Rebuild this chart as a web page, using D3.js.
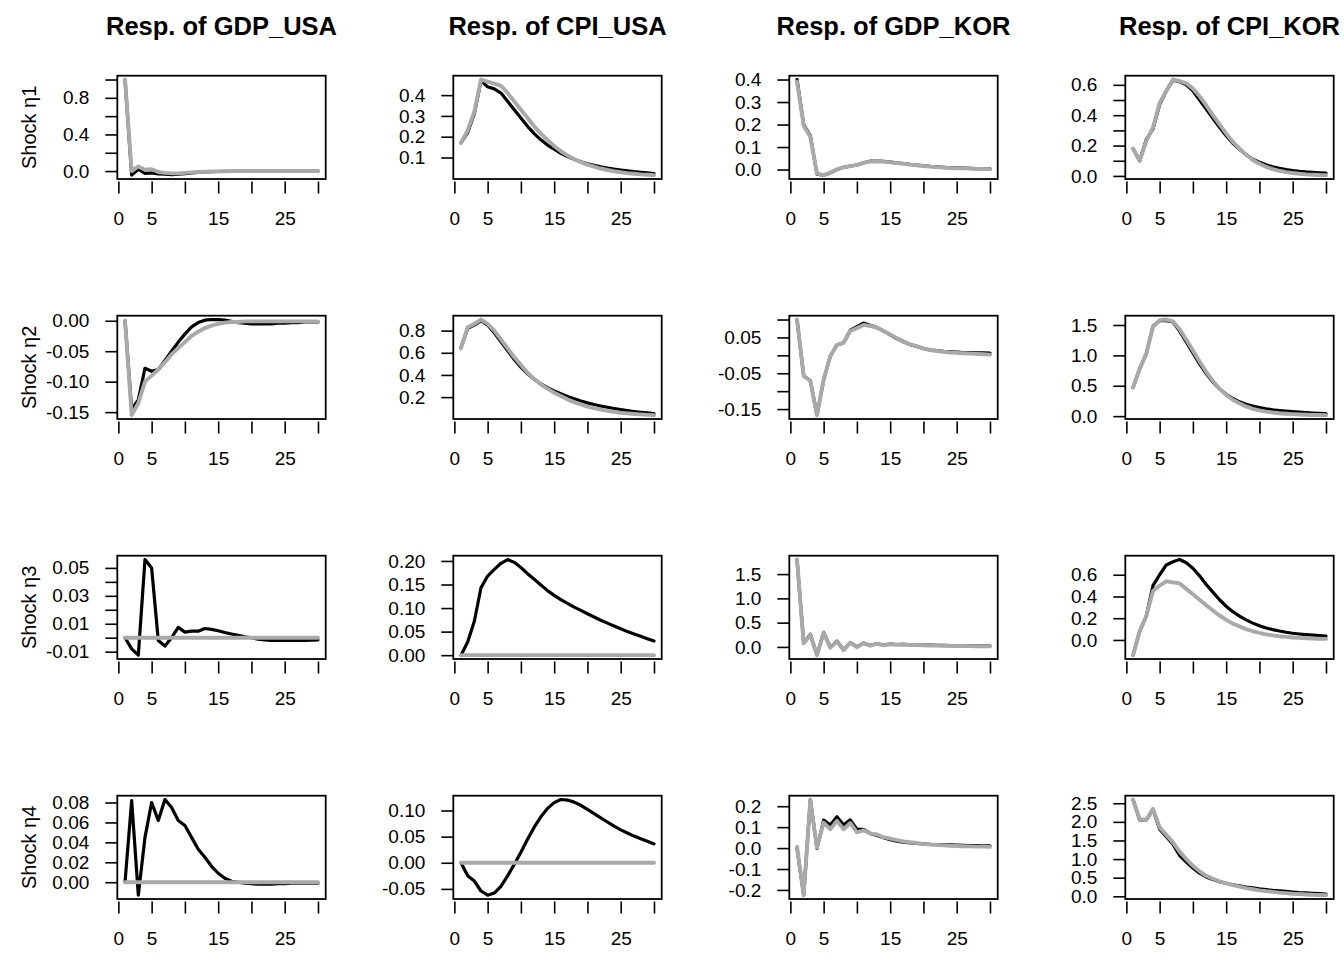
<!DOCTYPE html>
<html>
<head>
<meta charset="utf-8">
<script src="https://cdn.jsdelivr.net/npm/d3@7"></script>
<style>
  html, body { margin: 0; padding: 0; background: #fff; }
  svg { display: block; font-family: "Liberation Sans", Arial, Helvetica, sans-serif; }
</style>
</head>
<body>
<svg id="chart" width="1344" height="960"></svg>
<script>
// ---------------- data ----------------
const periods = [1,2,3,4,5,6,7,8,9,10,11,12,13,14,15,16,17,18,19,20,21,22,23,24,25,26,27,28,29,30];
const variables = ["GDP_USA", "CPI_USA", "GDP_KOR", "CPI_KOR"];
const shocks = ["η1", "η2", "η3", "η4"];
const xTicks = [0, 5, 10, 15, 20, 25, 30];
const xTickLabels = ["0", "5", "", "15", "", "25", ""];

// Shock η1
const black_GDP_USA_1 = [1.0,-0.045,0.02,-0.025,-0.02,-0.03,-0.035,-0.04,-0.035,-0.028,-0.02,-0.014,-0.01,-0.007,-0.005,-0.003,-0.002,-0.001,0,0,0,0,0,0,0,0,0,0,0,0];
const gray_GDP_USA_1  = [1.0,0.0,0.05,0.015,0.02,-0.01,-0.02,-0.025,-0.025,-0.02,-0.015,-0.01,-0.007,-0.005,-0.003,-0.002,-0.001,0,0,0,0,0,0,0,0,0,0,0,0,0];
const black_CPI_USA_1 = [0.17,0.22,0.31,0.47,0.44,0.43,0.41,0.37,0.33,0.29,0.25,0.215,0.185,0.16,0.14,0.12,0.105,0.092,0.08,0.07,0.062,0.055,0.049,0.044,0.04,0.036,0.032,0.029,0.026,0.023];
const gray_CPI_USA_1  = [0.17,0.23,0.32,0.475,0.465,0.455,0.445,0.41,0.37,0.33,0.29,0.25,0.215,0.185,0.155,0.13,0.11,0.093,0.078,0.066,0.056,0.047,0.04,0.034,0.029,0.025,0.022,0.019,0.017,0.015];
const black_GDP_KOR_1 = [0.40,0.20,0.15,-0.02,-0.025,-0.015,0.0,0.01,0.015,0.02,0.03,0.037,0.038,0.036,0.033,0.03,0.027,0.023,0.02,0.017,0.014,0.012,0.01,0.008,0.007,0.006,0.005,0.004,0.004,0.003];
const gray_GDP_KOR_1  = [0.39,0.195,0.145,-0.018,-0.025,-0.014,0.001,0.01,0.015,0.021,0.03,0.036,0.037,0.035,0.032,0.029,0.026,0.022,0.019,0.016,0.013,0.011,0.009,0.007,0.006,0.005,0.004,0.003,0.003,0.002];
const black_CPI_KOR_1 = [0.18,0.10,0.24,0.31,0.47,0.56,0.63,0.62,0.60,0.56,0.50,0.44,0.38,0.32,0.265,0.215,0.175,0.14,0.11,0.09,0.073,0.06,0.05,0.042,0.036,0.031,0.027,0.024,0.021,0.018];
const gray_CPI_KOR_1  = [0.18,0.10,0.23,0.32,0.48,0.56,0.635,0.625,0.61,0.575,0.525,0.465,0.40,0.34,0.28,0.225,0.18,0.14,0.105,0.08,0.06,0.045,0.034,0.025,0.019,0.014,0.01,0.008,0.006,0.005];

// Shock η2
const black_GDP_USA_2 = [0.0,-0.145,-0.13,-0.078,-0.083,-0.08,-0.065,-0.05,-0.035,-0.022,-0.01,-0.003,0.001,0.002,0.002,0.001,-0.001,-0.003,-0.004,-0.005,-0.005,-0.005,-0.005,-0.004,-0.004,-0.003,-0.003,-0.002,-0.002,-0.002];
const gray_GDP_USA_2  = [0.0,-0.155,-0.135,-0.10,-0.09,-0.08,-0.068,-0.055,-0.045,-0.035,-0.025,-0.018,-0.012,-0.008,-0.005,-0.003,-0.002,-0.002,-0.001,-0.001,-0.001,-0.001,-0.001,-0.001,-0.001,-0.001,-0.001,-0.001,-0.001,-0.001];
const black_CPI_USA_2 = [0.65,0.82,0.85,0.89,0.85,0.78,0.70,0.62,0.54,0.47,0.41,0.36,0.32,0.285,0.255,0.23,0.205,0.185,0.165,0.148,0.133,0.12,0.108,0.097,0.087,0.078,0.07,0.063,0.057,0.052];
const gray_CPI_USA_2  = [0.64,0.83,0.86,0.90,0.86,0.80,0.72,0.64,0.56,0.49,0.42,0.365,0.315,0.275,0.24,0.21,0.18,0.155,0.135,0.115,0.10,0.087,0.076,0.067,0.059,0.053,0.048,0.044,0.04,0.037];
const black_GDP_KOR_2 = [0.10,-0.057,-0.071,-0.167,-0.068,-0.002,0.029,0.035,0.07,0.08,0.09,0.084,0.078,0.068,0.057,0.047,0.038,0.03,0.025,0.019,0.015,0.013,0.011,0.01,0.009,0.008,0.008,0.007,0.007,0.006];
const gray_GDP_KOR_2  = [0.10,-0.057,-0.071,-0.167,-0.068,-0.002,0.029,0.035,0.068,0.076,0.085,0.082,0.077,0.068,0.058,0.048,0.039,0.031,0.025,0.019,0.015,0.012,0.01,0.008,0.007,0.006,0.005,0.004,0.003,0.002];
const black_CPI_KOR_2 = [0.47,0.78,1.03,1.48,1.57,1.57,1.55,1.40,1.22,1.04,0.86,0.70,0.56,0.45,0.36,0.29,0.235,0.195,0.165,0.14,0.12,0.105,0.093,0.082,0.073,0.065,0.058,0.052,0.047,0.042];
const gray_CPI_KOR_2  = [0.47,0.78,1.03,1.47,1.58,1.59,1.56,1.43,1.26,1.08,0.90,0.73,0.58,0.45,0.35,0.27,0.21,0.16,0.12,0.095,0.075,0.06,0.048,0.04,0.033,0.028,0.024,0.02,0.018,0.016];

// Shock η3
const black_GDP_USA_3 = [0.0,-0.008,-0.0125,0.056,0.05,-0.002,-0.006,0.0,0.0074,0.004,0.0047,0.0047,0.0066,0.006,0.005,0.0037,0.0027,0.0017,0.0007,0.0,-0.001,-0.0015,-0.002,-0.002,-0.002,-0.002,-0.002,-0.002,-0.0018,-0.0015];
const gray_GDP_USA_3  = [0,0,0,0,0,0,0,0,0,0,0,0,0,0,0,0,0,0,0,0,0,0,0,0,0,0,0,0,0,0];
const black_CPI_USA_3 = [0.0,0.028,0.072,0.143,0.168,0.182,0.195,0.203,0.197,0.186,0.173,0.161,0.149,0.137,0.127,0.118,0.11,0.102,0.095,0.088,0.081,0.074,0.068,0.062,0.056,0.05,0.045,0.04,0.035,0.03];
const gray_CPI_USA_3  = [0,0,0,0,0,0,0,0,0,0,0,0,0,0,0,0,0,0,0,0,0,0,0,0,0,0,0,0,0,0];
const black_GDP_KOR_3 = [1.8,0.08,0.26,-0.17,0.30,-0.01,0.12,-0.06,0.09,0.0,0.08,0.03,0.07,0.04,0.06,0.05,0.055,0.045,0.045,0.04,0.035,0.03,0.03,0.025,0.025,0.02,0.02,0.02,0.02,0.02];
const gray_GDP_KOR_3  = [1.8,0.075,0.25,-0.17,0.29,-0.015,0.11,-0.065,0.085,-0.005,0.075,0.025,0.065,0.035,0.055,0.045,0.05,0.04,0.04,0.035,0.03,0.028,0.025,0.022,0.02,0.018,0.016,0.015,0.014,0.013];
const black_CPI_KOR_3 = [-0.14,0.08,0.22,0.50,0.60,0.69,0.72,0.74,0.71,0.66,0.59,0.51,0.44,0.37,0.31,0.26,0.22,0.185,0.155,0.13,0.11,0.095,0.082,0.071,0.062,0.055,0.049,0.044,0.04,0.036];
const gray_CPI_KOR_3  = [-0.14,0.08,0.22,0.45,0.50,0.54,0.53,0.52,0.47,0.42,0.37,0.32,0.27,0.225,0.185,0.15,0.125,0.10,0.08,0.065,0.052,0.042,0.034,0.028,0.023,0.019,0.016,0.013,0.011,0.01];

// Shock η4
const black_GDP_USA_4 = [0.0,0.082,-0.013,0.045,0.08,0.062,0.083,0.075,0.062,0.057,0.045,0.033,0.025,0.016,0.009,0.004,0.001,0.0,-0.001,-0.0015,-0.002,-0.002,-0.002,-0.0015,-0.0015,-0.001,-0.001,-0.001,-0.001,-0.001];
const gray_GDP_USA_4  = [0,0,0,0,0,0,0,0,0,0,0,0,0,0,0,0,0,0,0,0,0,0,0,0,0,0,0,0,0,0];
const black_CPI_USA_4 = [0.0,-0.025,-0.035,-0.054,-0.062,-0.058,-0.045,-0.025,-0.003,0.02,0.045,0.068,0.088,0.104,0.115,0.121,0.12,0.116,0.11,0.102,0.094,0.086,0.078,0.07,0.063,0.057,0.051,0.046,0.041,0.036];
const gray_CPI_USA_4  = [0,0,0,0,0,0,0,0,0,0,0,0,0,0,0,0,0,0,0,0,0,0,0,0,0,0,0,0,0,0];
const black_GDP_KOR_4 = [0.0,-0.225,0.232,-0.002,0.134,0.11,0.15,0.11,0.135,0.09,0.09,0.07,0.06,0.05,0.04,0.033,0.028,0.025,0.022,0.02,0.018,0.017,0.016,0.015,0.014,0.013,0.012,0.012,0.011,0.011];
const gray_GDP_KOR_4  = [0.006,-0.225,0.23,0.002,0.122,0.09,0.13,0.09,0.12,0.075,0.085,0.07,0.065,0.052,0.045,0.038,0.032,0.028,0.024,0.02,0.017,0.015,0.013,0.011,0.01,0.009,0.008,0.007,0.007,0.006];
const black_CPI_KOR_4 = [2.6,2.05,2.05,2.33,1.80,1.60,1.40,1.10,0.92,0.76,0.62,0.52,0.45,0.39,0.35,0.31,0.28,0.25,0.225,0.20,0.18,0.16,0.145,0.13,0.115,0.10,0.09,0.08,0.07,0.06];
const gray_CPI_KOR_4  = [2.6,2.07,2.05,2.35,1.85,1.65,1.45,1.20,1.00,0.82,0.67,0.55,0.47,0.40,0.35,0.30,0.26,0.22,0.19,0.16,0.14,0.12,0.10,0.085,0.07,0.06,0.05,0.04,0.035,0.03];

// y tick values and labels (rows = shocks, columns = variables)
const yTicks = [
  [[0,0.2,0.4,0.6,0.8,1.0], [0.1,0.2,0.3,0.4], [0,0.1,0.2,0.3,0.4], [0,0.1,0.2,0.3,0.4,0.5,0.6]],
  [[-0.15,-0.10,-0.05,0], [0.2,0.4,0.6,0.8], [-0.15,-0.10,-0.05,0,0.05,0.10], [0,0.5,1.0,1.5]],
  [[-0.01,0,0.01,0.02,0.03,0.04,0.05], [0,0.05,0.10,0.15,0.20], [0,0.5,1.0,1.5], [0,0.2,0.4,0.6]],
  [[0,0.02,0.04,0.06,0.08], [-0.05,0,0.05,0.10], [-0.2,-0.1,0,0.1,0.2], [0,0.5,1.0,1.5,2.0,2.5]]
];
const yTickLabels = [
  [["0.0","","0.4","","0.8",""], ["0.1","0.2","0.3","0.4"], ["0.0","0.1","0.2","0.3","0.4"], ["0.0","","0.2","","0.4","","0.6"]],
  [["-0.15","-0.10","-0.05","0.00"], ["0.2","0.4","0.6","0.8"], ["-0.15","","-0.05","","0.05",""], ["0.0","0.5","1.0","1.5"]],
  [["-0.01","","0.01","","0.03","","0.05"], ["0.00","0.05","0.10","0.15","0.20"], ["0.0","0.5","1.0","1.5"], ["0.0","0.2","0.4","0.6"]],
  [["0.00","0.02","0.04","0.06","0.08"], ["-0.05","0.00","0.05","0.10"], ["-0.2","-0.1","0.0","0.1","0.2"], ["0.0","0.5","1.0","1.5","2.0","2.5"]]
];

const seriesBlack = [
  [black_GDP_USA_1, black_CPI_USA_1, black_GDP_KOR_1, black_CPI_KOR_1],
  [black_GDP_USA_2, black_CPI_USA_2, black_GDP_KOR_2, black_CPI_KOR_2],
  [black_GDP_USA_3, black_CPI_USA_3, black_GDP_KOR_3, black_CPI_KOR_3],
  [black_GDP_USA_4, black_CPI_USA_4, black_GDP_KOR_4, black_CPI_KOR_4]
];
const seriesGray = [
  [gray_GDP_USA_1, gray_CPI_USA_1, gray_GDP_KOR_1, gray_CPI_KOR_1],
  [gray_GDP_USA_2, gray_CPI_USA_2, gray_GDP_KOR_2, gray_CPI_KOR_2],
  [gray_GDP_USA_3, gray_CPI_USA_3, gray_GDP_KOR_3, gray_CPI_KOR_3],
  [gray_GDP_USA_4, gray_CPI_USA_4, gray_GDP_KOR_4, gray_CPI_KOR_4]
];

// ---------------- layout ----------------
const svg = d3.select("#chart");
const cellW = 336, cellH = 240;
const boxLeft = 117.3, boxW = 208.4, boxTop = 75.7, boxH = 103.3;
const FONT_TICK = 19, FONT_LAB = 20, FONT_TITLE = 25.5;

function padded(lo, hi) {
  const r = hi - lo;
  return [lo - 0.04 * r, hi + 0.04 * r];
}

const xs = padded(d3.min(periods), d3.max(periods));

shocks.forEach((shock, r) => {
  variables.forEach((v, c) => {
    const x0 = c * cellW + boxLeft;
    const y0 = r * cellH + boxTop;
    const g = svg.append("g").attr("transform", `translate(${x0},${y0})`);

    const bData = seriesBlack[r][c];
    const gData = seriesGray[r][c];
    const all = bData.concat(gData);
    const yd = padded(d3.min(all), d3.max(all));

    const x = d3.scaleLinear().domain(xs).range([0, boxW]);
    const y = d3.scaleLinear().domain(yd).range([boxH, 0]);

    // y axis
    const yAxis = d3.axisLeft(y)
      .tickValues(yTicks[r][c])
      .tickSize(12)
      .tickPadding(16)
      .tickFormat((d, i) => yTickLabels[r][c][i]);
    const ya = g.append("g").call(yAxis);
    ya.select(".domain").remove();
    ya.selectAll("line").attr("stroke", "#000").attr("stroke-width", 1.6);
    ya.selectAll("text").attr("font-size", FONT_TICK).attr("fill", "#000")
      .attr("font-family", "Liberation Sans, Arial, sans-serif");

    // x axis (ticks offset below box, no axis line)
    const xAxis = d3.axisBottom(x)
      .tickValues(xTicks)
      .tickSize(12)
      .tickPadding(18)
      .tickFormat((d, i) => xTickLabels[i]);
    const xa = g.append("g").attr("transform", `translate(0,${boxH + 2.5})`).call(xAxis);
    xa.select(".domain").remove();
    xa.selectAll("line").attr("stroke", "#000").attr("stroke-width", 1.6);
    xa.selectAll("text").attr("font-size", FONT_TICK).attr("fill", "#000")
      .attr("font-family", "Liberation Sans, Arial, sans-serif");

    // lines
    const line = d3.line().x((d, i) => x(periods[i])).y(d => y(d));
    g.append("path").datum(bData)
      .attr("d", line).attr("fill", "none")
      .attr("stroke", "#000").attr("stroke-width", 3.2)
      .attr("stroke-linejoin", "round").attr("stroke-linecap", "round");
    g.append("path").datum(gData)
      .attr("d", line).attr("fill", "none")
      .attr("stroke", "#a9a9a9").attr("stroke-width", 3.9)
      .attr("stroke-linejoin", "round").attr("stroke-linecap", "round");

    // box
    g.append("rect").attr("x", 0).attr("y", 0).attr("width", boxW).attr("height", boxH)
      .attr("fill", "none").attr("stroke", "#000").attr("stroke-width", 1.8);

    // titles on top row
    if (r === 0) {
      svg.append("text")
        .attr("x", x0 + boxW / 2).attr("y", 35)
        .attr("text-anchor", "middle")
        .attr("font-size", FONT_TITLE).attr("font-weight", "bold")
        .text("Resp. of " + v);
    }
    // y labels on first column
    if (c === 0) {
      svg.append("text")
        .attr("transform", `translate(${x0 - 81},${y0 + boxH / 2}) rotate(-90)`)
        .attr("text-anchor", "middle")
        .attr("font-size", FONT_LAB)
        .text("Shock " + shock);
    }
  });
});
</script>
</body>
</html>
